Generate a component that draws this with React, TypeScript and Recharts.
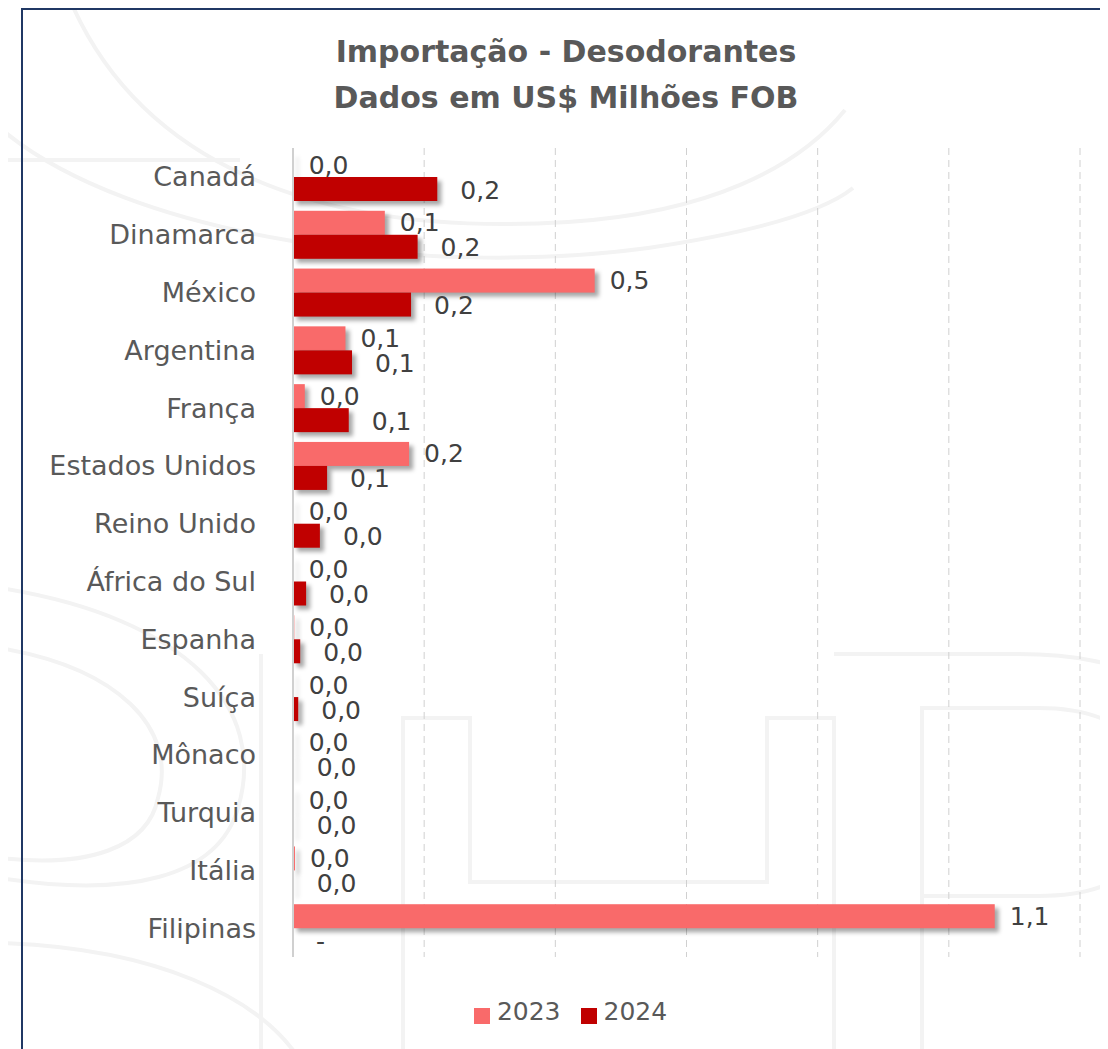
import React from 'react';
import { BarChart, Bar, XAxis, YAxis, CartesianGrid, LabelList, Legend } from 'recharts';

const categories = [
  'Canadá', 'Dinamarca', 'México', 'Argentina', 'França', 'Estados Unidos', 'Reino Unido',
  'África do Sul', 'Espanha', 'Suíça', 'Mônaco', 'Turquia', 'Itália', 'Filipinas',
];
const values2023 = [0.001, 0.14, 0.46, 0.08, 0.018, 0.177, 0.001, 0.001, 0.002, 0.001, 0.001, 0.001, 0.003, 1.07];
const values2024 = [0.22, 0.19, 0.18, 0.09, 0.085, 0.052, 0.041, 0.02, 0.011, 0.008, 0.001, 0.001, 0.001, 0];
const xTicks = [0, 0.2, 0.4, 0.6, 0.8, 1.0, 1.2];
const seriesNames = ['2023', '2024'];
const titleLines = ['Importação - Desodorantes', 'Dados em US$ Milhões FOB'];

const data = categories.map((c, i) => ({ name: c, v2023: values2023[i], v2024: values2024[i] }));

const FONT = '"DejaVu Sans", sans-serif';

// faint background watermark outlines (decorative)
const watermarkPaths = [
  'M 62 -8 C 130 150, 300 230, 560 214 C 700 205, 790 160, 837 102',
  'M -8 120 C 120 230, 420 270, 640 240 C 760 222, 820 200, 845 180',
  'M -8 152 L 232 152',
  'M -8 580 C 180 610, 260 700, 230 800 C 210 870, 120 890, -8 870',
  'M -8 640 C 110 660, 170 720, 150 790 C 140 840, 80 860, -8 850',
  'M -8 935 C 150 940, 250 990, 290 1049',
  'M 253 1049 L 253 646',
  'M 395 1049 L 395 710 L 462 710 L 462 874 L 759 874 L 759 710 L 826 710 L 826 1049',
  'M 826 646 L 1010 646 C 1080 646, 1110 660, 1110 660',
  'M 914 1049 L 914 700 L 1030 700 C 1090 700, 1110 720, 1110 720',
  'M 914 888 L 1030 888 C 1090 888, 1110 870, 1110 870',
];

const ShadowBar = (props: any) => {
  const { x, y, width, height, fill } = props;
  if (!width || width <= 0) return null;
  return (
    <rect
      x={x}
      y={y}
      width={width}
      height={height}
      fill={fill}
      style={{ filter: 'drop-shadow(4px 4px 2px rgba(0,0,0,0.35))' }}
    />
  );
};

const fmt = (v: number) => (v === 0 ? '-' : v.toFixed(1).replace('.', ','));

const makeLabel = (dx: number, dy: number) => (props: any) => {
  const { x, y, width, height, value } = props;
  return (
    <text
      x={Number(x) + Number(width) + dx}
      y={Number(y) + Number(height) / 2 + dy}
      dominantBaseline="central"
      fontSize={25}
      fill="#404040"
      fontFamily={FONT}
    >
      {fmt(Number(value))}
    </text>
  );
};

export default function App() {
  return (
    <div style={{ position: 'relative', width: 1100, height: 1041, overflow: 'hidden', background: '#fff' }}>
      <svg
        width={1100}
        height={1041}
        style={{ position: 'absolute', left: 0, top: 0 }}
      >
        {watermarkPaths.map((d, i) => (
          <path key={i} d={d} fill="none" stroke="#f3f3f3" strokeWidth={4} />
        ))}
      </svg>
      <div
        style={{
          position: 'absolute',
          left: 13,
          top: 0,
          width: 1200,
          height: 1200,
          borderTop: '2px solid #203864',
          borderLeft: '2px solid #203864',
          boxSizing: 'border-box',
        }}
      />
      <div
        style={{
          position: 'absolute',
          left: 0,
          top: 21,
          width: 1116,
          textAlign: 'center',
          fontFamily: FONT,
          fontWeight: 'bold',
          fontSize: 30,
          lineHeight: '46px',
          color: '#595959',
        }}
      >
        {titleLines.map((t) => (
          <div key={t}>{t}</div>
        ))}
      </div>
      <div style={{ position: 'absolute', left: 0, top: 0 }}>
        <BarChart
          width={1092}
          height={1041}
          data={data}
          layout="vertical"
          margin={{ top: 140, right: 20, bottom: 92, left: 0 }}
          barGap={0}
          barSize={24}
        >
          <CartesianGrid horizontal={false} vertical={true} stroke="#d0d0d0" strokeDasharray="7 5" />
          <XAxis type="number" domain={[0, 1.2]} ticks={xTicks} hide />
          <YAxis
            type="category"
            dataKey="name"
            width={285}
            tickSize={0}
            tickMargin={37}
            axisLine={{ stroke: '#d0d0d0', strokeWidth: 2 }}
            tickLine={false}
            tick={{ fontSize: 27, fill: '#595959', fontFamily: FONT }}
            interval={0}
          />
          <Legend
            layout="horizontal"
            verticalAlign="middle"
            align="center"
            iconType="square"
            iconSize={16}
            wrapperStyle={{ top: 989, left: 50, width: 1045, height: 32, fontFamily: FONT }}
            formatter={(v: any) => (
              <span style={{ color: '#595959', fontSize: 25, paddingLeft: 3, paddingRight: 10 }}>{v}</span>
            )}
          />
          <Bar dataKey="v2023" name={seriesNames[0]} fill="#F96A6A" isAnimationActive={false} shape={<ShadowBar />}>
            <LabelList dataKey="v2023" content={makeLabel(15, 0)} />
          </Bar>
          <Bar dataKey="v2024" name={seriesNames[1]} fill="#C00000" isAnimationActive={false} shape={<ShadowBar />}>
            <LabelList dataKey="v2024" content={makeLabel(23, 1)} />
          </Bar>
        </BarChart>
      </div>
    </div>
  );
}
